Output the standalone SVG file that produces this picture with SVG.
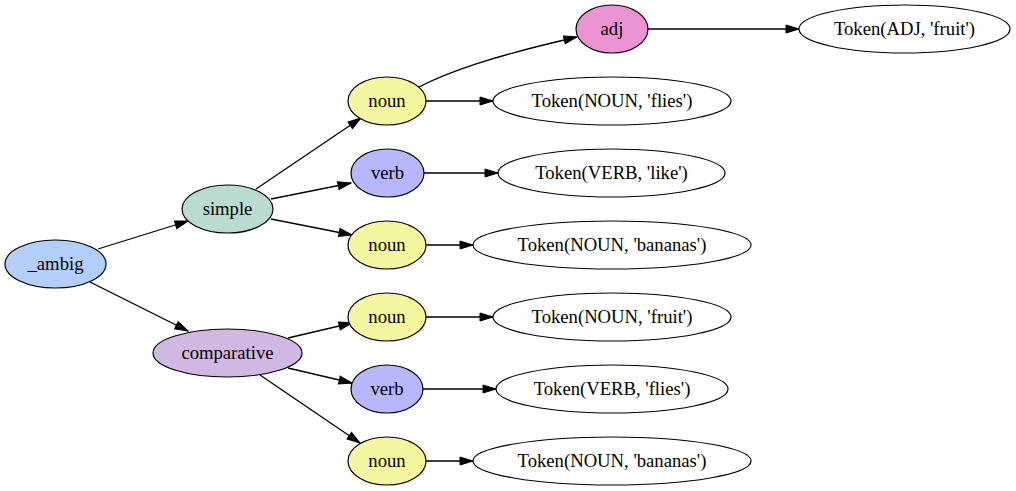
<svg xmlns="http://www.w3.org/2000/svg" width="1016" height="491" viewBox="0 0 1016 491">
  <defs>
    <style>
      .node ellipse { stroke: #000; stroke-width: 1.2; }
      .edges path { fill: none; stroke: #000; stroke-width: 1.3; marker-end: url(#arrow); }
      .labels { font-family: "Liberation Serif", serif; font-size: 18.67px; text-anchor: middle; fill: #000; }
      .root { fill: #b3cff8; }
      .simple { fill: #badbcf; }
      .comp { fill: #d0b8e3; }
      .noun { fill: #f6f6a0; }
      .verb { fill: #b7b7fd; }
      .adj { fill: #eb94d3; }
      .tok { fill: #fff; }
    </style>
    <marker id="arrow" markerUnits="userSpaceOnUse" markerWidth="15" markerHeight="10" refX="14" refY="5" orient="auto">
      <path d="M1,1 L14,5 L1,9 z" fill="#000" stroke="#000" stroke-width="1"/>
    </marker>
  </defs>
  <rect width="1016" height="491" fill="#fff"/>

  <g class="edges">
    <path d="M98,249 L188,221"/>
    <path d="M90,282 L188,331"/>
    <path d="M256,189 L361,118"/>
    <path d="M271,199 L351,183"/>
    <path d="M271,219 L352,235"/>
    <path d="M288,338 L352,323"/>
    <path d="M288,368 L352,383"/>
    <path d="M260,375 L360,443"/>
    <path d="M419,87 C448,72 490,57 577,37"/>
    <path d="M648,29 L799,29"/>
    <path d="M426,101 L493,101"/>
    <path d="M424,173 L498,173"/>
    <path d="M426,245 L473,245"/>
    <path d="M426,317 L493,317"/>
    <path d="M423,389 L496,389"/>
    <path d="M426,461 L473,461"/>
  </g>

  <g class="labels" style="font-family: 'Liberation Serif', serif">
    <g id="n_ambig" class="node"><ellipse class="root" cx="55.5" cy="264" rx="50.5" ry="24"/><text x="55.5" y="270">_ambig</text></g>
    <g id="n_simple" class="node"><ellipse class="simple" cx="227.5" cy="209" rx="45.5" ry="24"/><text x="227.5" y="215">simple</text></g>
    <g id="n_comparative" class="node"><ellipse class="comp" cx="227.5" cy="353" rx="74.5" ry="24"/><text x="227.5" y="359">comparative</text></g>

    <g id="n_noun1" class="node"><ellipse class="noun" cx="387" cy="101" rx="39" ry="24"/><text x="387" y="107">noun</text></g>
    <g id="n_verb1" class="node"><ellipse class="verb" cx="387.5" cy="173" rx="36.5" ry="24"/><text x="387.5" y="179">verb</text></g>
    <g id="n_noun2" class="node"><ellipse class="noun" cx="387" cy="245" rx="39" ry="24"/><text x="387" y="251">noun</text></g>
    <g id="n_noun3" class="node"><ellipse class="noun" cx="387" cy="317" rx="39" ry="24"/><text x="387" y="323">noun</text></g>
    <g id="n_verb2" class="node"><ellipse class="verb" cx="387" cy="389" rx="36" ry="24"/><text x="387" y="395">verb</text></g>
    <g id="n_noun4" class="node"><ellipse class="noun" cx="387" cy="461" rx="39" ry="24"/><text x="387" y="467">noun</text></g>

    <g id="n_adj" class="node"><ellipse class="adj" cx="612" cy="29" rx="36" ry="24"/><text x="612" y="35">adj</text></g>

    <g id="t_adj_fruit" class="node"><ellipse class="tok" cx="904.5" cy="29" rx="105.5" ry="24"/><text x="904.5" y="35">Token(ADJ, 'fruit')</text></g>
    <g id="t_noun_flies" class="node"><ellipse class="tok" cx="612" cy="101" rx="119" ry="24"/><text x="612" y="107">Token(NOUN, 'flies')</text></g>
    <g id="t_verb_like" class="node"><ellipse class="tok" cx="611.5" cy="173" rx="113.5" ry="24"/><text x="611.5" y="179">Token(VERB, 'like')</text></g>
    <g id="t_noun_bananas1" class="node"><ellipse class="tok" cx="612" cy="245" rx="139" ry="24"/><text x="612" y="251">Token(NOUN, 'bananas')</text></g>
    <g id="t_noun_fruit" class="node"><ellipse class="tok" cx="612" cy="317" rx="119" ry="24"/><text x="612" y="323">Token(NOUN, 'fruit')</text></g>
    <g id="t_verb_flies" class="node"><ellipse class="tok" cx="612" cy="389" rx="116" ry="24"/><text x="612" y="395">Token(VERB, 'flies')</text></g>
    <g id="t_noun_bananas2" class="node"><ellipse class="tok" cx="612" cy="461" rx="139" ry="24"/><text x="612" y="467">Token(NOUN, 'bananas')</text></g>
  </g>
</svg>
